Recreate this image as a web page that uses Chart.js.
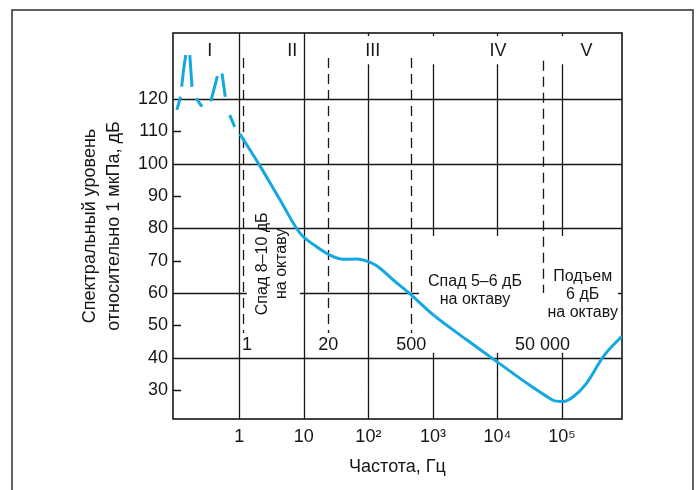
<!DOCTYPE html>
<html>
<head>
<meta charset="utf-8">
<script src="https://cdn.jsdelivr.net/npm/chart.js@4.4.0/dist/chart.umd.min.js"></script>
<style>
  html, body { margin: 0; padding: 0; background: #fff; }
  #wrap { width: 700px; height: 490px; }
</style>
</head>
<body>
<div id="wrap"><canvas id="myChart" width="700" height="490"></canvas></div>
<script>
// low-frequency part of the spectrum (drawn dashed), Гц / дБ
const lowFreq  = [0.108, 0.123, 0.137, 0.152, 0.171, 0.185, 0.216, 0.255, 0.294, 0.36, 0.416, 0.476, 0.54, 0.607, 0.71, 0.849, 1.02];
const lowLevel = [116.6, 120.7, 129.0, 135.1, 133.6, 123.8, 120.2, 118.0, 117.7, 119.2, 123.8, 128.3, 127.9, 120.7, 115.0, 111.4, 109.2];

// main part of the spectrum (solid)
const mainFreq  = [1.02, 2.09, 4.27, 8.72, 15.8, 25.4, 40.8, 65.9, 99.7, 134.6, 243, 441, 1014, 3337, 7650, 28340, 57800, 77800, 104700, 149600, 241000, 436000, 791000, 850000];
const mainLevel = [109.2, 99.3, 88.8, 78.5, 74.3, 71.7, 70.4, 70.5, 69.7, 68.4, 64.0, 59.7, 53.2, 45.5, 40.3, 32.1, 28.0, 26.6, 26.4, 27.9, 32.1, 40.3, 46.0, 46.6];

const yTicks = [30, 40, 50, 60, 70, 80, 90, 100, 110, 120];
const xTicks = [1, 10, 100, 1000, 10000, 100000];
const xTickLabels = ['1', '10', '10²', '10³', '10⁴', '10⁵'];

// frequency bands
const bandLabels = ['I', 'II', 'III', 'IV', 'V'];
const bandFreq = [0.35, 6.6, 117, 10200, 240000];

// band boundaries (dashed lines)
const boundFreq = [1.14, 24, 460, 50000];
const boundLabels = ['1', '20', '500', '50 000'];

const X_MIN = 0.094, X_MAX = 850000, Y_MIN = 21, Y_MAX = 140.4;

// layout of the drawing, in axis units
const bandLabelY = 134.8;
const boundLabelY = 43.9;
const boundTop = [132.7, 132.7, 132.7, 131.8];
const boundBottom = [47.6, 47.6, 47.6, 60];
const hSegs = [
  [120, X_MIN, X_MAX], [100, X_MIN, X_MAX], [80, X_MIN, X_MAX],
  [60, X_MIN, 1.31], [60, 8.7, 608], [60, 740000, X_MAX],
  [40, X_MIN, X_MAX]
];
const vSegs = [
  [1, Y_MIN, Y_MAX], [10, Y_MIN, Y_MAX],
  [100, Y_MIN, 130.7], [100, 139.5, Y_MAX],
  [1000, 77.6, 130.7], [1000, Y_MIN, 41.5], [1000, 139.5, Y_MAX],
  [10000, 77.6, 130.7], [10000, Y_MIN, 41.5], [10000, 139.5, Y_MAX],
  [100000, 77.6, 130.7], [100000, Y_MIN, 41.5], [100000, 139.5, Y_MAX]
];
const minorY = [110, 90, 70, 50, 30];
const notes = [
  { lines: ['Спад 8–10 дБ', 'на октаву'], x: 3.2, y: 69.0, rotate: true },
  { lines: ['Спад 5–6 дБ', 'на октаву'], x: 4480, y: 60.6 },
  { lines: ['Подъем', '6 дБ', 'на октаву'], x: 209000, y: 59.4 }
];

const FONT = "'Liberation Sans', Arial, sans-serif";
const BLUE = '#14a8e2';
const INK = '#161616';
// hand-drawn dashes of the low-frequency part
const LOW_DASH = [13.7, 10.1, 31.9, 10.9, 31.8, 12.4, 10.2, 10, 26, 8.1, 23.5, 18.9, 12.7, 20];

Chart.defaults.font.family = FONT;

const schemePlugin = {
  id: 'scheme',
  beforeDraw(chart) {
    const ctx = chart.ctx;
    ctx.save();
    ctx.fillStyle = '#fff';
    ctx.fillRect(0, 0, chart.width, chart.height);
    ctx.strokeStyle = '#3a3a3a';
    ctx.lineWidth = 1.6;
    ctx.strokeRect(12, 10, 681, 500);
    ctx.restore();
  },
  beforeDatasetsDraw(chart) {
    const { ctx, chartArea: a, scales: { x, y } } = chart;
    ctx.save();
    ctx.strokeStyle = INK;
    ctx.lineWidth = 1.3;
    ctx.beginPath();
    hSegs.forEach(([v, f0, f1]) => {
      const py = Math.round(y.getPixelForValue(v)) + 0.5;
      ctx.moveTo(x.getPixelForValue(f0), py);
      ctx.lineTo(x.getPixelForValue(f1), py);
    });
    vSegs.forEach(([f, v0, v1]) => {
      const px = Math.round(x.getPixelForValue(f)) + 0.5;
      ctx.moveTo(px, y.getPixelForValue(v0));
      ctx.lineTo(px, y.getPixelForValue(v1));
    });
    minorY.forEach(v => {
      const py = Math.round(y.getPixelForValue(v)) + 0.5;
      ctx.moveTo(a.left, py);
      ctx.lineTo(a.left + 8, py);
    });
    ctx.stroke();

    ctx.setLineDash([10, 6]);
    ctx.beginPath();
    boundFreq.forEach((f, i) => {
      const px = Math.round(x.getPixelForValue(f)) + 0.5;
      ctx.moveTo(px, y.getPixelForValue(boundTop[i]));
      ctx.lineTo(px, y.getPixelForValue(boundBottom[i]));
    });
    ctx.stroke();
    ctx.setLineDash([]);

    ctx.lineWidth = 1.6;
    ctx.strokeRect(a.left, a.top, a.right - a.left, a.bottom - a.top);

    ctx.fillStyle = INK;
    ctx.textBaseline = 'middle';
    ctx.font = '18px ' + FONT;
    ctx.textAlign = 'center';
    bandLabels.forEach((t, i) => {
      ctx.fillText(t, x.getPixelForValue(bandFreq[i]), y.getPixelForValue(bandLabelY));
    });
    boundLabels.forEach((t, i) => {
      const px = x.getPixelForValue(boundFreq[i]);
      ctx.textAlign = i === 0 ? 'left' : 'center';
      ctx.fillText(t, i === 0 ? px - 1 : px, y.getPixelForValue(boundLabelY));
    });

    ctx.font = '16px ' + FONT;
    ctx.textAlign = 'center';
    notes.forEach(n => {
      const px = x.getPixelForValue(n.x), py = y.getPixelForValue(n.y);
      const lh = n.rotate ? 19 : 18;
      ctx.save();
      ctx.translate(px, py);
      if (n.rotate) ctx.rotate(-Math.PI / 2);
      n.lines.forEach((t, i) => {
        ctx.fillText(t, 0, (i - (n.lines.length - 1) / 2) * lh);
      });
      ctx.restore();
    });
    ctx.restore();
  }
};

const ctx = document.getElementById('myChart').getContext('2d');
new Chart(ctx, {
  type: 'line',
  data: {
    datasets: [
      {
        label: 'low',
        data: lowFreq.map((f, i) => ({ x: f, y: lowLevel[i] })),
        borderColor: BLUE,
        borderWidth: 3,
        borderDash: LOW_DASH,
        tension: 0,
        pointRadius: 0,
        fill: false,
      },
      {
        label: 'main',
        data: mainFreq.map((f, i) => ({ x: f, y: mainLevel[i] })),
        borderColor: BLUE,
        borderWidth: 3,
        pointRadius: 0,
        cubicInterpolationMode: 'monotone',
        fill: false,
      }
    ]
  },
  options: {
    responsive: false,
    animation: false,
    layout: { padding: { left: 0, top: 33, right: 78, bottom: 0 } },
    plugins: { legend: { display: false }, tooltip: { enabled: false } },
    scales: {
      x: {
        type: 'logarithmic',
        min: X_MIN,
        max: X_MAX,
        afterFit: s => { s.height = 71; },
        afterBuildTicks: s => { s.ticks = xTicks.map(v => ({ value: v })); },
        grid: { display: false, drawTicks: false },
        border: { display: false },
        ticks: {
          autoSkip: false,
          maxRotation: 0,
          padding: 7,
          color: INK,
          font: { size: 18 },
          callback: (v, i) => xTickLabels[i],
        },
        title: {
          display: true,
          text: 'Частота, Гц',
          color: INK,
          font: { size: 18 },
          padding: { top: 0, bottom: 12 },
        },
      },
      y: {
        min: Y_MIN,
        max: Y_MAX,
        afterFit: s => { s.width = 173; },
        afterBuildTicks: s => { s.ticks = yTicks.map(v => ({ value: v })); },
        grid: { display: false, drawTicks: false },
        border: { display: false },
        ticks: { padding: 5, color: INK, font: { size: 18 } },
        title: {
          display: true,
          text: ['Спектральный уровень', 'относительно 1 мкПа, дБ'],
          color: INK,
          font: { size: 18, lineHeight: 1.35 },
          padding: { top: 78, bottom: 0 },
        },
      },
    },
  },
  plugins: [schemePlugin],
});
</script>
</body>
</html>
